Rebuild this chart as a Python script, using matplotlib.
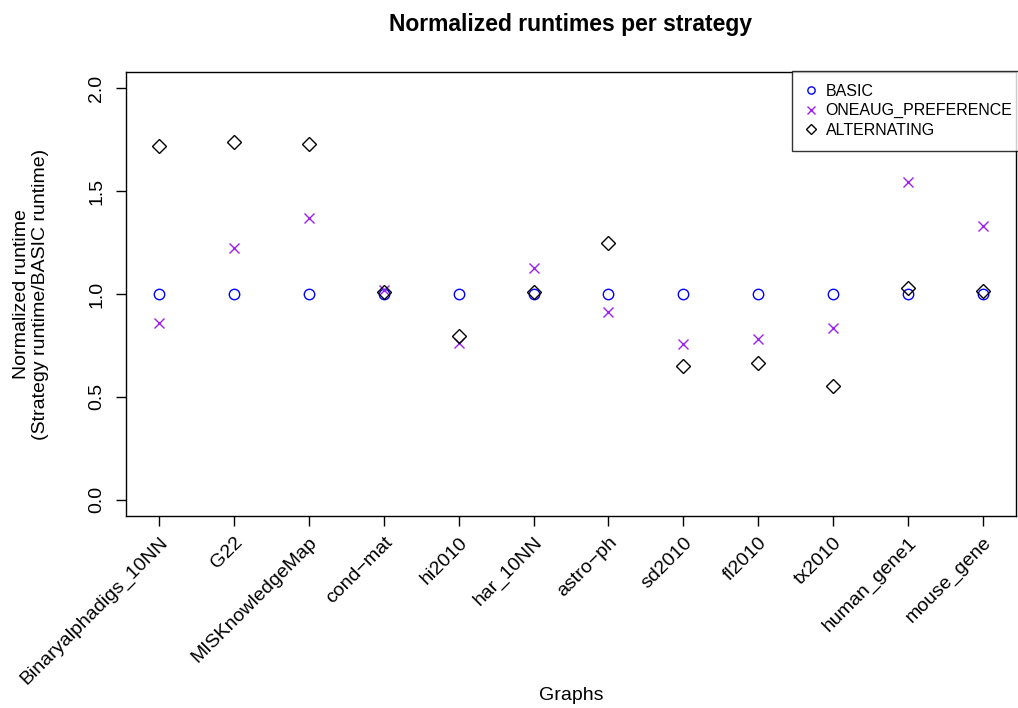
import matplotlib
matplotlib.use("Agg")
import matplotlib.pyplot as plt
import numpy as np

plt.rcParams['font.family'] = ['Liberation Sans', 'DejaVu Sans']

graphs = ["Binaryalphadigs_10NN", "G22", "MISKnowledgeMap", "cond\u2212mat", "hi2010",
          "har_10NN", "astro\u2212ph", "sd2010", "fl2010", "tx2010", "human_gene1", "mouse_gene"]
basic = [1.0] * 12
oneaug = [0.86, 1.224, 1.368, 1.02, 0.76, 1.125, 0.912, 0.756, 0.78, 0.833, 1.545, 1.33]
alternating = [1.722, 1.741, 1.73, 1.01, 0.797, 1.01, 1.249, 0.65, 0.663, 0.551, 1.03, 1.015]
yticks = [0.0, 0.5, 1.0, 1.5, 2.0]

W, H = 1018, 708
fig = plt.figure(figsize=(W / 100, H / 100), dpi=100)
ax = fig.add_axes([126/W, 1 - 516/H, (1016-126)/W, (516-72)/H])

x = np.arange(1, len(graphs) + 1)
ax.plot(x, basic, linestyle='none', marker='o', markersize=7.5, markerfacecolor='none',
        markeredgecolor='#0000FF', markeredgewidth=1.0, label='BASIC')
ax.plot(x, oneaug, linestyle='none', marker='x', markersize=7.5,
        color='#A020F0', markeredgewidth=1.0, label='ONEAUG_PREFERENCE')
ax.plot(x, alternating, linestyle='none', marker='D', markersize=7.5, markerfacecolor='none',
        markeredgecolor='black', markeredgewidth=1.0, label='ALTERNATING')

ax.set_xlim(1 - 0.44, 12 + 0.44)
ax.set_ylim(-0.08, 2.08)
ax.set_xticks(x)
ax.set_xticklabels(graphs, rotation=45, ha='right', rotation_mode='anchor', fontsize=14)
ax.set_yticks(yticks)
ax.set_yticklabels([f"{v:.1f}" for v in yticks], rotation=90, va='center', fontsize=14)
ax.tick_params(axis='both', length=7, width=1, color='black')
ax.tick_params(axis='x', pad=6)
ax.tick_params(axis='y', pad=8)
for s in ax.spines.values():
    s.set_linewidth(1.0)

fig.text(571 / W, 1 - 695 / H, "Graphs", ha='center', va='center', fontsize=14)
fig.text(31 / W, 1 - 294 / H, "Normalized runtime\n(Strategy runtime/BASIC runtime)",
         ha='center', va='center', rotation=90, fontsize=14, linespacing=1.15)
fig.text(571 / W, 1 - 25 / H, "Normalized runtimes per strategy", ha='center', va='center',
         fontsize=16.5, fontweight='bold')

leg = ax.legend(loc='upper left', bbox_to_anchor=(792 / W, 1 - 71 / H),
                bbox_transform=fig.transFigure, fontsize=11.5, frameon=True, fancybox=False,
                edgecolor='black', borderaxespad=0, handlelength=0.8, handletextpad=0.5,
                labelspacing=0.28, borderpad=0.8, markerscale=0.7)
leg.get_frame().set_linewidth(1.0)

fig.savefig("out.png", dpi=100)
